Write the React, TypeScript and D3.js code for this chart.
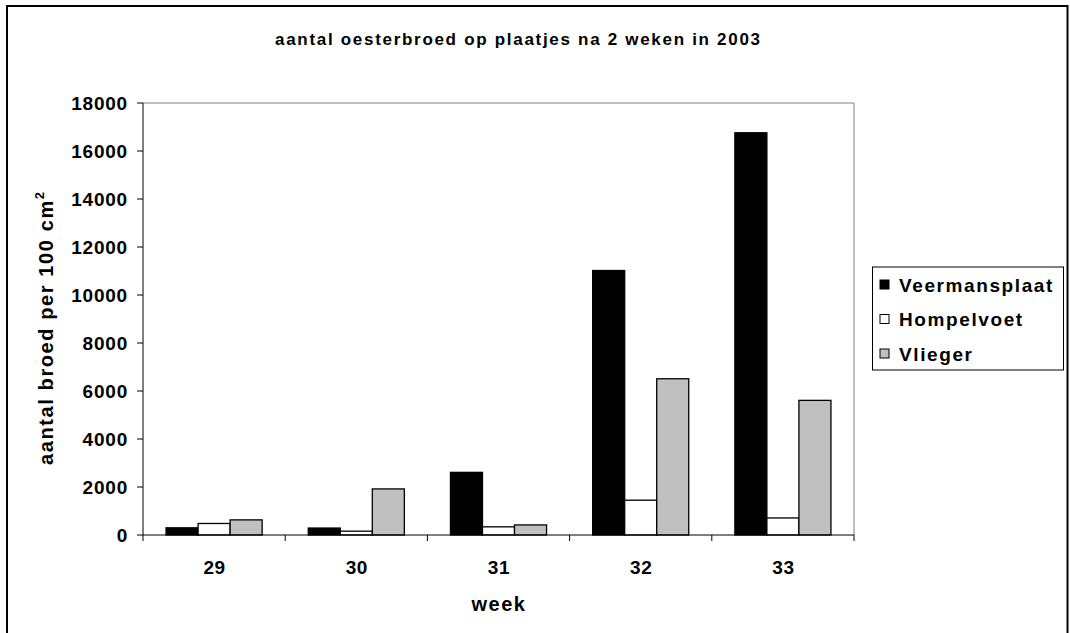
import React from "react";
import * as d3 from "d3";

const weeks = ["29", "30", "31", "32", "33"];
const seriesNames = ["Veermansplaat", "Hompelvoet", "Vlieger"];
const veermansplaat = [300, 290, 2610, 11020, 16760];
const hompelvoet = [480, 160, 340, 1450, 710];
const vlieger = [630, 1920, 420, 6510, 5610];
const seriesColors = ["#000000", "#ffffff", "#c0c0c0"];
const yTicks = [0, 2000, 4000, 6000, 8000, 10000, 12000, 14000, 16000, 18000];

const W = 1070;
const H = 633;
const plot = { left: 143, right: 854, top: 103, bottom: 535 };
const FONT = "'Liberation Sans', Arial, Helvetica, sans-serif";

export default function App() {
  const seriesValues = [veermansplaat, hompelvoet, vlieger];
  const x0 = d3.scaleBand<string>().domain(weeks).range([plot.left, plot.right]).padding(0);
  const x1 = d3
    .scaleBand<string>()
    .domain(seriesNames)
    .range([0, x0.bandwidth()])
    .paddingInner(0)
    .paddingOuter(0.72);
  const y = d3.scaleLinear().domain([0, 18000]).range([plot.bottom, plot.top]);

  const boundaries = weeks.map((w) => x0(w) as number).concat([plot.right]);

  return (
    <svg
      width={W}
      height={H}
      style={{ position: "absolute", left: 0, top: 0, overflow: "hidden", background: "#fff" }}
      fontFamily={FONT}
      fontWeight="bold"
    >
      <rect x={0} y={0} width={W} height={H} fill="#fff" />
      {/* outer frame */}
      <rect x={7} y={6} width={1060.5} height={631} fill="none" stroke="#000" strokeWidth={2} />

      {/* title */}
      <text x={275} y={45} fontSize={17} letterSpacing={1.7} fill="#000">
        aantal oesterbroed op plaatjes na 2 weken in 2003
      </text>

      {/* plot area border (top/right grey) */}
      <line x1={plot.left} x2={plot.right} y1={plot.top} y2={plot.top} stroke="#808080" strokeWidth={1} />
      <line x1={plot.right} x2={plot.right} y1={plot.top} y2={plot.bottom} stroke="#808080" strokeWidth={1} />

      {/* bars */}
      {weeks.map((w, i) => (
        <g key={w}>
          {seriesNames.map((s, j) => {
            const v = seriesValues[j][i];
            const bx = (x0(w) as number) + (x1(s) as number);
            return (
              <rect
                key={s}
                x={bx}
                y={y(v)}
                width={x1.bandwidth()}
                height={plot.bottom - y(v)}
                fill={seriesColors[j]}
                stroke="#000"
                strokeWidth={1.3}
              />
            );
          })}
        </g>
      ))}

      {/* y axis */}
      <line x1={plot.left} x2={plot.left} y1={plot.top} y2={plot.bottom} stroke="#000" strokeWidth={1} />
      {yTicks.map((t) => (
        <g key={t}>
          <line x1={plot.left - 6} x2={plot.left} y1={y(t)} y2={y(t)} stroke="#000" strokeWidth={1} />
          <text x={128} y={y(t) + 7} fontSize={19} letterSpacing={0.8} textAnchor="end" fill="#000">
            {t}
          </text>
        </g>
      ))}

      {/* x axis */}
      <line x1={plot.left} x2={plot.right} y1={plot.bottom} y2={plot.bottom} stroke="#000" strokeWidth={1} />
      {boundaries.map((bx, i) => (
        <line key={i} x1={bx} x2={bx} y1={plot.bottom} y2={plot.bottom + 6} stroke="#000" strokeWidth={1} />
      ))}
      {weeks.map((w) => (
        <text
          key={w}
          x={(x0(w) as number) + x0.bandwidth() / 2 + 0.5}
          y={573.5}
          fontSize={19}
          letterSpacing={0.6}
          textAnchor="middle"
          fill="#000"
        >
          {w}
        </text>
      ))}

      {/* axis titles */}
      <text x={499} y={610.5} fontSize={20} letterSpacing={1.5} textAnchor="middle" fill="#000">
        week
      </text>
      <text
        transform="translate(53,465) rotate(-90)"
        x={0}
        y={0}
        fontSize={20}
        letterSpacing={1.6}
        fill="#000"
      >
        aantal broed per 100 cm
        <tspan fontSize={13} dy={-9}>
          2
        </tspan>
      </text>

      {/* legend */}
      <rect x={872.5} y={267} width={191} height={103} fill="#fff" stroke="#000" strokeWidth={1} />
      {seriesNames.map((s, j) => {
        const cy = 284.5 + j * 34.5;
        return (
          <g key={s}>
            <rect x={880} y={cy - 4.5} width={9} height={9} fill={seriesColors[j]} stroke="#000" strokeWidth={1} />
            <text x={899} y={cy + 7} fontSize={19} letterSpacing={1.6} fill="#000">
              {s}
            </text>
          </g>
        );
      })}
    </svg>
  );
}
